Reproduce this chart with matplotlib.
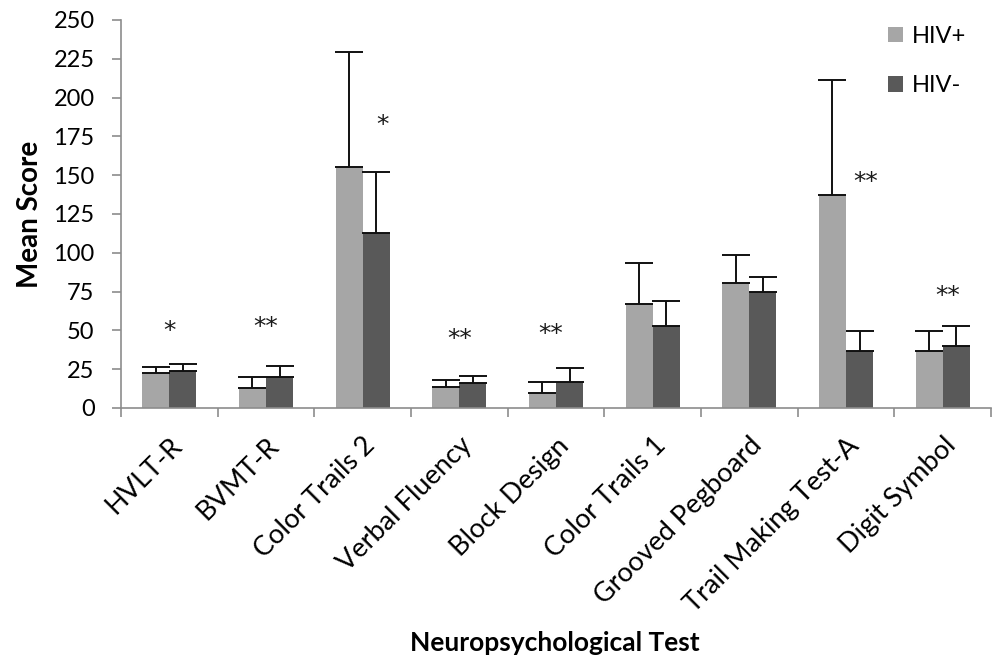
import numpy as np
import matplotlib
matplotlib.use("Agg")
from matplotlib import pyplot as plt

plt.rcParams['font.family'] = ['Lato', 'DejaVu Sans']

tests = ['HVLT-R', 'BVMT-R', 'Color Trails 2', 'Verbal Fluency', 'Block Design',
         'Color Trails 1', 'Grooved Pegboard', 'Trail Making Test-A', 'Digit Symbol']
hiv_pos = [22.3, 12.7, 155.1, 13.3, 9.9, 67.2, 80.7, 137.2, 36.7]
hiv_pos_sd = [4.3, 7.5, 74.5, 4.5, 6.9, 26.0, 17.7, 74.1, 13.1]
hiv_neg = [24.0, 20.2, 113.0, 15.9, 17.0, 53.0, 74.5, 36.7, 40.2]
hiv_neg_sd = [4.4, 7.1, 39.3, 4.7, 8.6, 16.0, 9.7, 13.1, 12.4]

# significance marks: label, height, offset from category centre
stars = ['*', '**', '*', '**', '**', '', '', '**', '**']
star_y = [52, 55, 185, 47, 50, 0, 0, 148, 75]
star_dx = [0, 0, 0.21, 0, -0.05, 0, 0, 0.2, 0.05]

c_pos = '#a6a6a6'
c_neg = '#595959'

fig = plt.figure(figsize=(9.95, 6.59), dpi=100)
ax = fig.add_axes([0.1216, 0.381, 0.8744, 0.5887])

x = np.arange(len(tests))
w = 0.28
zeros = np.zeros(len(tests))
ekw = dict(ecolor='#111111', elinewidth=1.4, capthick=1.4)
ax.bar(x - w / 2, hiv_pos, w, color=c_pos, label='HIV+', zorder=2,
       yerr=[zeros, hiv_pos_sd], capsize=10, error_kw=ekw)
ax.bar(x + w / 2, hiv_neg, w, color=c_neg, label='HIV-', zorder=2,
       yerr=[zeros, hiv_neg_sd], capsize=10, error_kw=ekw)

for i, s in enumerate(stars):
    if s:
        ax.annotate(s, (x[i] + star_dx[i], star_y[i]), xytext=(0, -8),
                    textcoords='offset points', ha='center', va='baseline',
                    fontsize=18, family='DejaVu Sans', color='#1a1a1a')

ax.set_xlim(-0.5, len(tests) - 0.5)
ax.set_ylim(0, 250)
ax.set_yticks(np.arange(0, 251, 25))
ax.set_xticks(x)
ax.set_xticklabels(tests, rotation=45, ha='right', rotation_mode='anchor')
ax.set_xticks(np.arange(-0.5, len(tests)), minor=True)
ax.tick_params(axis='x', which='major', length=0, pad=18, labelsize=19.5)
ax.tick_params(axis='x', which='minor', length=6.5, color='#8c8c8c', width=1.2, direction='out')
ax.tick_params(axis='y', length=6.5, color='#8c8c8c', width=1.2, labelsize=17, pad=12.5)

for side in ['top', 'right']:
    ax.spines[side].set_visible(False)
for side in ['left', 'bottom']:
    ax.spines[side].set_color('#8c8c8c')
    ax.spines[side].set_linewidth(1.2)

ax.set_ylabel('Mean Score', fontsize=20, fontweight='bold')
ax.yaxis.set_label_coords(-0.09, 0.5)
fig.text(0.558, 0.024, 'Neuropsychological Test', fontsize=19, fontweight='bold',
         ha='center', va='center')

ax.legend(loc='upper left', bbox_to_anchor=(0.8816, 0.985), frameon=False, fontsize=17,
          borderpad=0, borderaxespad=0,
          handlelength=0.64, handleheight=0.64, labelspacing=1.2, handletextpad=0.38)

fig.savefig('out.png', dpi=100)
